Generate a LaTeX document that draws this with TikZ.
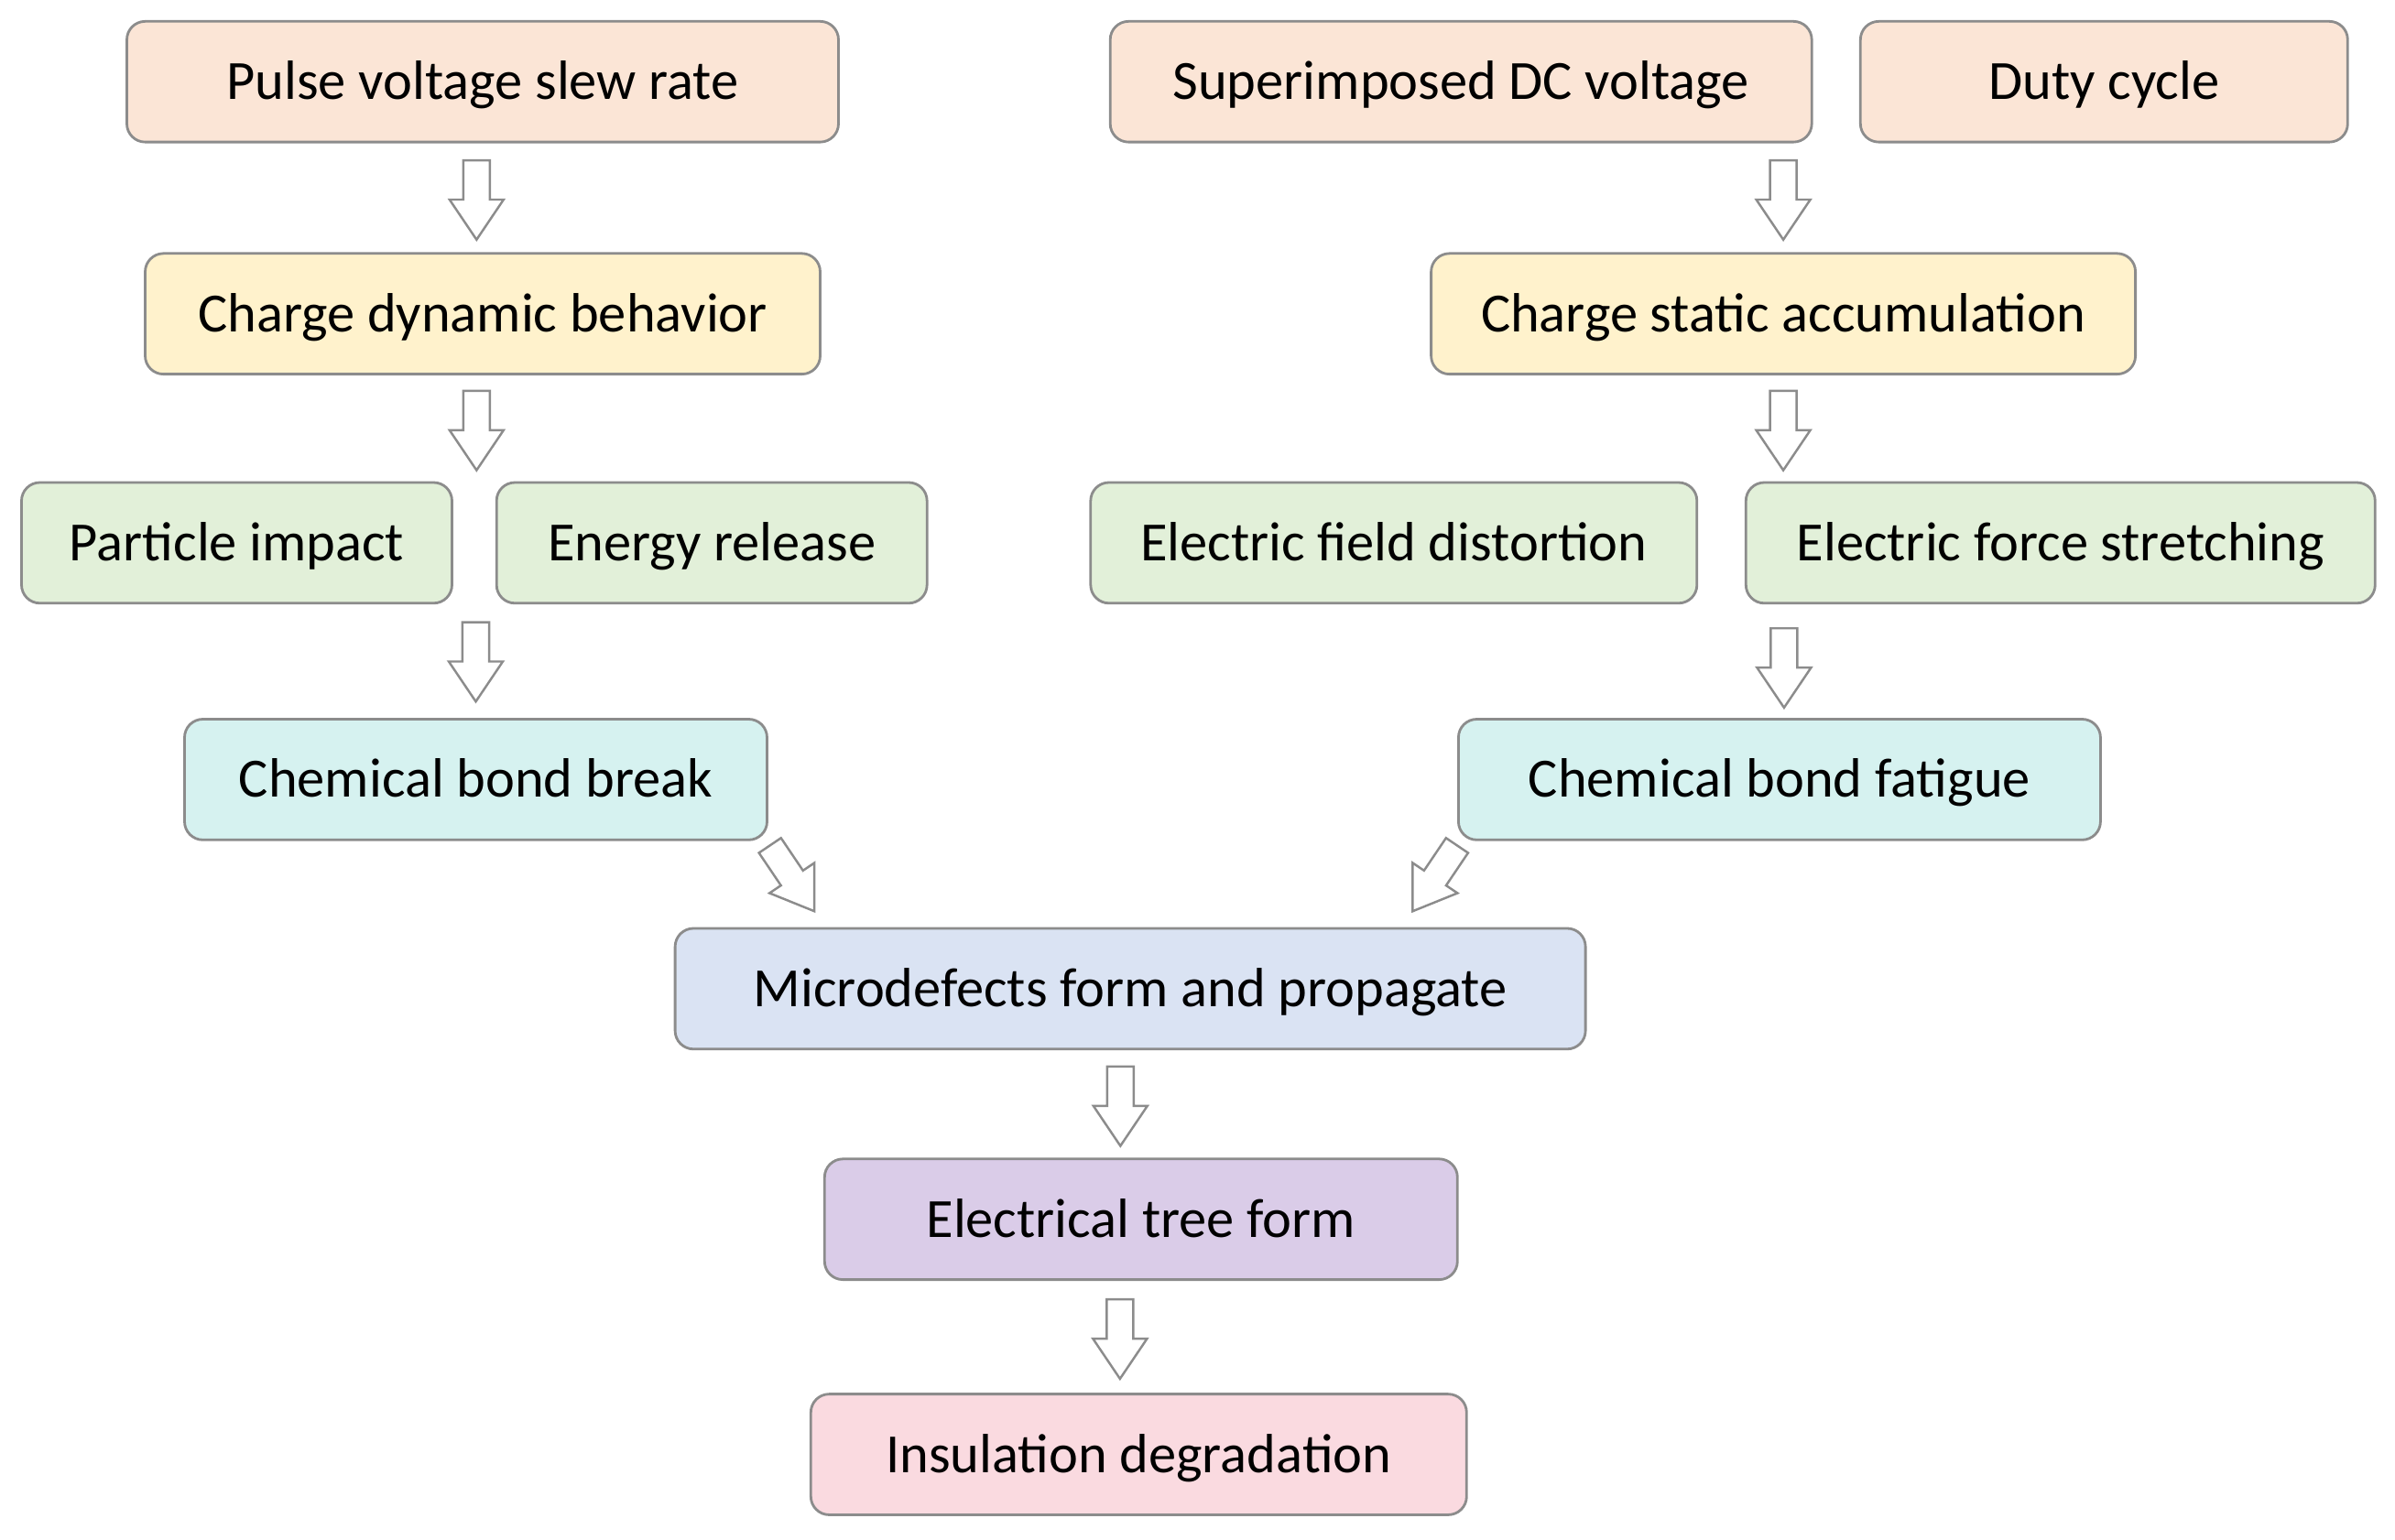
\documentclass[tikz,border=0pt]{standalone}
\usepackage{fontspec}
\setmainfont{Carlito}
\usetikzlibrary{calc,shapes.arrows}
\newcommand{\pxsize}{0.01668cm}
\definecolor{edgegray}{RGB}{140,140,140}
\definecolor{peach}{RGB}{251,229,214}
\definecolor{cream}{RGB}{255,242,204}
\definecolor{mint}{RGB}{226,240,217}
\definecolor{aqua}{RGB}{214,242,240}
\definecolor{lilacblue}{RGB}{218,227,243}
\definecolor{lilac}{RGB}{218,204,232}
\definecolor{rose}{RGB}{250,218,224}
\tikzset{
	stage/.style={draw=edgegray, line width=0.8pt, rounded corners=0.2cm,
		minimum height=1.318cm, inner sep=0pt, text height=0.39cm, text depth=0pt,
		font=\fontsize{17.2}{20}\selectfont},
	blockarrow/.style={single arrow, draw=edgegray, fill=white, line width=0.7pt,
		minimum height=0.867cm, minimum width=0.567cm, single arrow head extend=0.15cm,
		single arrow tip angle=68, inner xsep=0pt, inner ysep=0.133cm}
}

\begin{document}
\begin{tikzpicture}[x=\pxsize,y=-\pxsize]
	\useasboundingbox (0,0) rectangle (1568,1008);
	\node[stage, fill=peach, minimum width=7.77cm] (slew) at (316,53.5) {Pulse voltage slew rate};
	\node[stage, fill=peach, minimum width=7.66cm] (dcv) at (956.5,53.5) {Superimposed DC voltage};
	\node[stage, fill=peach, minimum width=5.32cm] (duty) at (1377.5,53.5) {Duty cycle};
	\node[stage, fill=cream, minimum width=7.37cm] (dynamic) at (316,205.5) {Charge dynamic behavior};
	\node[stage, fill=cream, minimum width=7.69cm] (static) at (1167.5,205.5) {Charge static accumulation};
	\node[stage, fill=mint, minimum width=4.70cm] (impact) at (155,355.5) {Particle impact};
	\node[stage, fill=mint, minimum width=4.70cm] (release) at (466,355.5) {Energy release};
	\node[stage, fill=mint, minimum width=6.62cm] (distort) at (912.5,355.5) {Electric field distortion};
	\node[stage, fill=mint, minimum width=6.87cm] (stretch) at (1349,355.5) {Electric force stretching};
	\node[stage, fill=aqua, minimum width=6.36cm] (bondbreak) at (311.5,510.5) {Chemical bond break};
	\node[stage, fill=aqua, minimum width=7.01cm] (fatigue) at (1165,510.5) {Chemical bond fatigue};
	\node[stage, fill=lilacblue, minimum width=9.94cm] (micro) at (740,647.5) {Microdefects form and propagate};
	\node[stage, fill=lilac, minimum width=6.91cm] (tree) at (747,798.5) {Electrical tree form};
	\node[stage, fill=rose, minimum width=7.16cm] (degrade) at (745.5,952.5) {Insulation degradation};

	% block arrows between stages
	\node[blockarrow, rotate=-90] (a1) at ($(slew.south)!0.5!(dynamic.north)+(-4,-5)$) {};
	\node[blockarrow, rotate=-90] (a2) at ($(dcv.south -| static.north)!0.5!(static.north)+(0,-5)$) {};
	\node[blockarrow, rotate=-90] (a3) at ($(dynamic.south)!0.5!(dynamic.south |- impact.north)+(-4,-5)$) {};
	\node[blockarrow, rotate=-90] (a4) at ($(static.south)!0.5!(static.south |- distort.north)+(0,-5)$) {};
	\node[blockarrow, rotate=-90] (a5) at ($(impact.south -| bondbreak.north)!0.5!(bondbreak.north)+(0,-6)$) {};
	\node[blockarrow, rotate=-90] (a6) at ($(stretch.south -| fatigue.north)!0.5!(fatigue.north)+(3,-2)$) {};
	\node[blockarrow, rotate=-56] (a7) at ($(bondbreak.south east)+(12,19)$) {};
	\node[blockarrow, rotate=-124] (a8) at ($(fatigue.south west)+(-11,19)$) {};
	\node[blockarrow, rotate=-90] (a9) at ($(micro.south)!0.5!(tree.north)+(-10,-5)$) {};
	\node[blockarrow, rotate=-90] (a10) at ($(tree.south)!0.5!(degrade.north)+(-13,-5)$) {};
\end{tikzpicture}
\end{document}
